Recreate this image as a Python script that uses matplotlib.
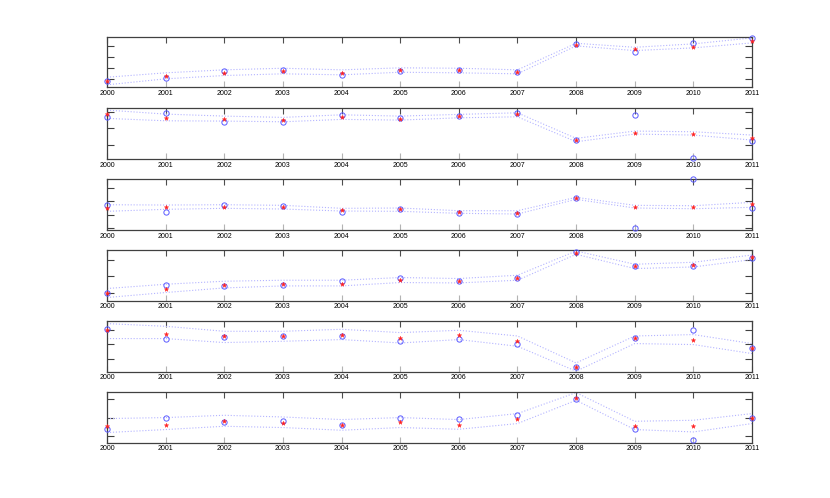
import numpy as np
import matplotlib
matplotlib.use('Agg')
import matplotlib.pyplot as plt

plt.rcParams['font.family'] = ['Liberation Sans', 'DejaVu Sans']

years = list(range(2000, 2012))

# one entry per panel: observed (red), fitted (blue circles), upper/lower bands
red = [
    [7, 12, 14.3, 17, 15, 17.7, 18, 16, 43, 39, 41, 47],
    [44.7, 40.7, 40, 39.3, 41.7, 40.3, 43, 44.7, 19, 26.3, 25.3, 20.7],
    [21.7, 22.7, 23.3, 22.7, 20, 20.7, 18.3, 17.3, 31.7, 23.3, 23, 25.7],
    [7.8, 12.2, 16.2, 17.2, 16.5, 20.5, 19.8, 22.8, 48.2, 34.8, 35.8, 43.8],
    [41.5, 38.2, 35.5, 35.5, 37.2, 33.8, 36.5, 30.5, 4.5, 33.8, 32.2, 23.8],
    [16.5, 18.2, 21.5, 20.2, 18.2, 20.8, 18.2, 24.2, 45.2, 16.8, 16.5, 25.2],
]
blue = [
    [7, 9.3, 16.7, 18, 12.7, 16.7, 17.7, 16, 43.3, 35.7, 44.3, 49.7],
    [42.3, 45.7, 37.3, 37.3, 44, 40.7, 43, 45.7, 18.7, 43.7, 0.7, 18],
    [24.7, 18.3, 24.7, 24, 18.3, 21, 16.7, 16, 31.7, 2.3, 50.7, 22.3],
    [7.8, 15.5, 14.5, 16.2, 19.5, 22.8, 19.8, 22.8, 48.5, 35.2, 34.5, 43.2],
    [43.2, 32.5, 34.8, 35.5, 35.8, 30.8, 33.2, 27.8, 4.8, 33.8, 41.5, 24.2],
    [13.8, 25.2, 20.8, 21.5, 17.5, 25.2, 24.2, 27.5, 44.2, 14.2, 2.5, 25.2],
]
upper = [
    [10.3, 14.7, 17.7, 19.3, 17.7, 19.7, 19.3, 17.7, 44.3, 40.3, 43.7, 49.7],
    [49, 45, 43, 41.7, 44.3, 43, 44.7, 46.3, 20.7, 28, 27.3, 24],
    [25.3, 25, 25.3, 24.7, 21.7, 22, 19.3, 19.3, 32.7, 24.7, 24.3, 27.7],
    [12.2, 16.5, 19.5, 20.5, 20.5, 23.2, 22.2, 25.5, 49.8, 36.5, 38.5, 45.8],
    [48.2, 45.5, 40.5, 40.5, 42.5, 39.2, 41.5, 35.8, 8.8, 35.8, 37.2, 28.2],
    [24.2, 25.2, 27.5, 25.8, 23.2, 25.2, 23.2, 29.2, 50.2, 21.5, 22.5, 29.2],
]
lower = [
    [2.7, 8.7, 12, 13.7, 12.7, 15.3, 14.7, 13.7, 41.7, 37, 39.7, 44.7],
    [40.7, 38.3, 38, 37.3, 39.7, 39, 41.3, 42.3, 17.3, 25, 24, 19],
    [18.7, 20.7, 21.7, 21, 19, 18.7, 16.7, 16, 30.7, 22, 21.3, 22.7],
    [3.2, 8.2, 12.8, 14.8, 14.8, 18.2, 17.8, 20.5, 46.5, 32.2, 33.8, 41.2],
    [33.2, 33.2, 29.2, 30.5, 32.2, 28.8, 32.2, 25.5, 0.5, 28.2, 27.2, 18.2],
    [10.2, 13.2, 16.5, 15.2, 12.5, 15.2, 13.5, 19.2, 42.5, 13.2, 10.8, 19.2],
]
yticks = [
    [9, 20, 31, 42],
    [14, 30.7, 47.3],
    [1.7, 15.3, 28.9, 42.5],
    [7.8, 24.5, 41.2],
    [12.5, 27.3, 42],
    [6.5, 24.8, 43.5],
]

fig = plt.figure(figsize=(8.3, 4.98), dpi=100)
bottoms = [0.8243, 0.6807, 0.5382, 0.3962, 0.2536, 0.1110]

for k in range(6):
    ax = fig.add_axes([0.129, bottoms[k], 0.777, 0.1022])
    ax.plot(years, upper[k], ':', color='#b4b4ff', lw=0.8)
    ax.plot(years, lower[k], ':', color='#b4b4ff', lw=0.8)
    ax.plot(years, blue[k], 'o', mfc='none', mec='#5a5aff', ms=3.8, mew=0.7,
            clip_on=False, zorder=3)
    ax.plot(years, red[k], '*', color='#ff2020', ms=3.3, mew=0.3,
            clip_on=False, zorder=4)
    ax.set_xlim(2000, 2011)
    ax.set_ylim(0, 51)
    ax.set_xticks(years)
    ax.set_xticklabels([str(y) for y in years], fontsize=5)
    ax.set_yticks(yticks[k])
    ax.set_yticklabels([])
    ax.tick_params(axis='x', direction='in', length=4, width=0.8,
                   color='0.7', pad=2)
    ax.tick_params(axis='y', direction='in', length=5, width=0.8,
                   color='0.25', left=True, right=True)
    top = ax.secondary_xaxis('top')
    top.set_xticks(years)
    top.set_xticklabels([])
    top.tick_params(direction='in', length=4, width=0.8, color='0.3')
    top.spines['top'].set_visible(False)
    for s in ax.spines.values():
        s.set_color('0.25')
        s.set_linewidth(0.9)

fig.savefig('out.png', dpi=100)
